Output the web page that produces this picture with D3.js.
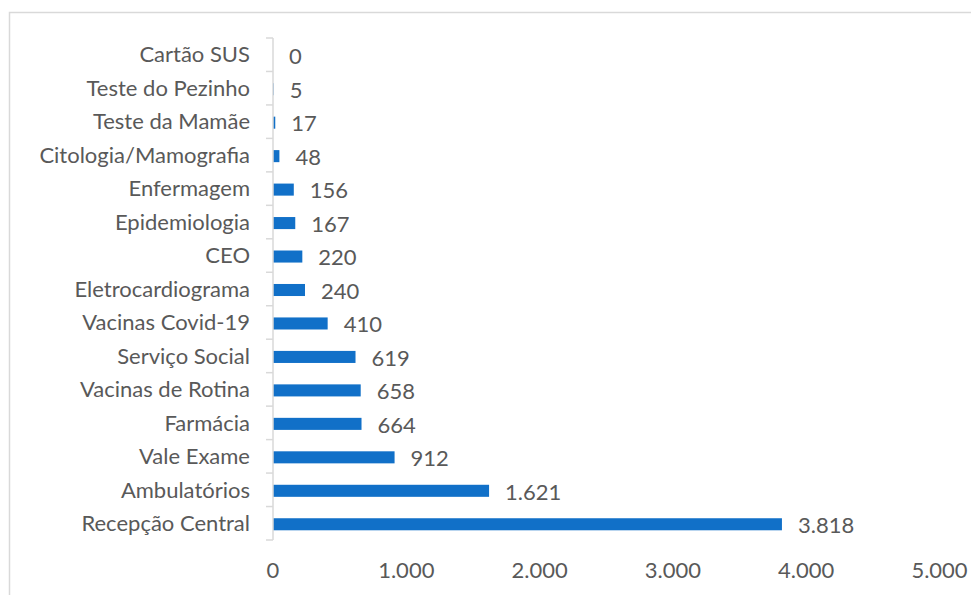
<!DOCTYPE html>
<html>
<head>
<meta charset="utf-8">
<script src="https://cdn.jsdelivr.net/npm/d3@7"></script>
<style>
  body { margin: 0; background: #fff; }
  text { font-family: Lato, "Open Sans", sans-serif; fill: #595959; }
</style>
</head>
<body>
<svg id="chart" width="971" height="595"></svg>
<script>
// data, top to bottom as in the picture
var categories = ["Cartão SUS", "Teste do Pezinho", "Teste da Mamãe", "Citologia/Mamografia",
  "Enfermagem", "Epidemiologia", "CEO", "Eletrocardiograma", "Vacinas Covid-19",
  "Serviço Social", "Vacinas de Rotina", "Farmácia", "Vale Exame", "Ambulatórios",
  "Recepção Central"];
var values = [0, 5, 17, 48, 156, 167, 220, 240, 410, 619, 658, 664, 912, 1621, 3818];
var xTicks = [0, 1000, 2000, 3000, 4000, 5000];

var svg = d3.select("#chart");
var fontSize = 22;

// chart frame (right and bottom fall outside the picture)
svg.append("rect")
  .attr("x", 9.5).attr("y", 12.5)
  .attr("width", 1000).attr("height", 700)
  .attr("fill", "none")
  .attr("stroke", "#d9d9d9")
  .attr("stroke-width", 1.5);

var x = d3.scaleLinear().domain([0, 5000]).range([273, 939.5]);
var y = d3.scaleBand().domain(categories).range([38, 540]).paddingInner(0.64).paddingOuter(0.32);

var fmt = function(v) { return d3.format(",")(v).replace(/,/g, "."); };

// bars
svg.selectAll(".bar")
  .data(values)
  .enter().append("rect")
  .attr("class", "bar")
  .attr("x", x(0))
  .attr("y", function(d, i) { return y(categories[i]) + 1; })
  .attr("width", function(d) { return x(d) - x(0); })
  .attr("height", y.bandwidth())
  .attr("fill", "#1170c8");

// value labels
svg.selectAll(".val")
  .data(values)
  .enter().append("text")
  .attr("class", "val")
  .attr("x", function(d) { return x(d) + 16; })
  .attr("y", function(d, i) { return y(categories[i]) + y.bandwidth() / 2 + 2; })
  .attr("dy", "0.35em")
  .style("font-size", fontSize + "px")
  .text(fmt);

// y axis: line plus ticks on category boundaries
var step = y.step();
var yAxis = svg.append("g");
yAxis.append("line")
  .attr("x1", 273).attr("x2", 273)
  .attr("y1", 38).attr("y2", 540)
  .attr("stroke", "#d9d9d9").attr("stroke-width", 1.5);
yAxis.selectAll(".tick")
  .data(d3.range(categories.length + 1))
  .enter().append("line")
  .attr("x1", 266).attr("x2", 273)
  .attr("y1", function(i) { return 38 + i * step; })
  .attr("y2", function(i) { return 38 + i * step; })
  .attr("stroke", "#d9d9d9").attr("stroke-width", 1.5);
yAxis.selectAll(".cat")
  .data(categories)
  .enter().append("text")
  .attr("x", 250)
  .attr("y", function(d) { return y(d) + y.bandwidth() / 2; })
  .attr("dy", "0.35em")
  .attr("text-anchor", "end")
  .style("font-size", fontSize + "px")
  .text(function(d) { return d; });

// x tick labels only, no axis line
svg.selectAll(".xt")
  .data(xTicks)
  .enter().append("text")
  .attr("x", function(d) { return x(d); })
  .attr("y", 570)
  .attr("dy", "0.35em")
  .attr("text-anchor", "middle")
  .style("font-size", fontSize + "px")
  .text(fmt);
</script>
</body>
</html>
